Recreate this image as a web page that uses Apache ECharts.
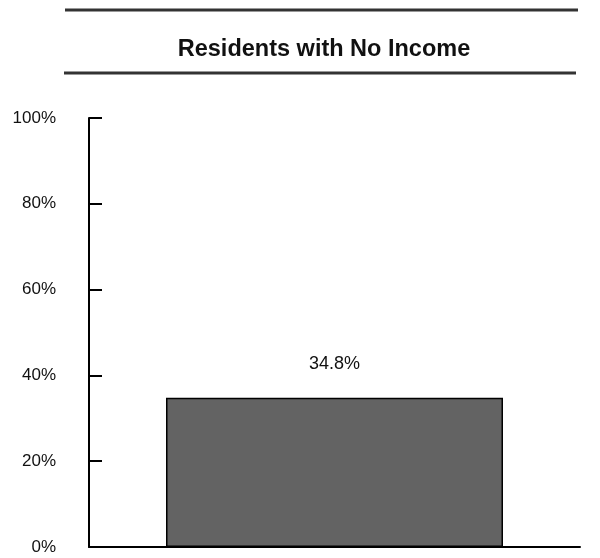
<!DOCTYPE html>
<html><head><meta charset="utf-8">
<script src="https://cdn.jsdelivr.net/npm/echarts@6/dist/echarts.min.js"></script>
<style>html,body{margin:0;padding:0;background:#fff}#c{width:600px;height:558px}</style>
</head><body><div id="c"></div>
<script>
const titleText = 'Residents with No Income';
const categories = ['Residents with No Income'];
const values = [34.8];
const yTicks = [0, 20, 40, 60, 80, 100];
const FONT = '"Liberation Sans Narrow", "Liberation Sans", Arial, sans-serif';

const chart = echarts.init(document.getElementById('c'), null, {renderer: 'canvas'});
chart.setOption({
  animation: false,
  backgroundColor: '#fff',
  title: {
    text: titleText, left: 319, textAlign: 'center', top: 33,
    textStyle: {fontFamily: FONT, fontSize: 23.5, fontWeight: 'bold', color: '#111'}
  },
  graphic: [
    {type: 'line', shape: {x1: 65, y1: 10, x2: 578, y2: 10}, style: {stroke: '#333', lineWidth: 3}},
    {type: 'line', shape: {x1: 64, y1: 73, x2: 576, y2: 73}, style: {stroke: '#333', lineWidth: 3}}
  ],
  grid: {left: 89, right: 20, top: 118, bottom: 11, containLabel: false},
  xAxis: {
    type: 'category', data: categories,
    axisLine: {show: true, lineStyle: {color: '#000', width: 2}},
    axisTick: {show: false}, axisLabel: {show: false}
  },
  yAxis: {
    type: 'value', min: yTicks[0], max: yTicks[yTicks.length - 1], interval: 20,
    axisLine: {show: true, lineStyle: {color: '#000', width: 2}},
    axisTick: {show: true, inside: true, length: 13, lineStyle: {color: '#000', width: 2}},
    splitLine: {show: false},
    axisLabel: {formatter: v => v + '%', margin: 33, fontFamily: FONT, fontSize: 17, color: '#111'}
  },
  series: [{
    type: 'bar', data: values, barWidth: 337,
    itemStyle: {color: '#636363', borderColor: '#000', borderWidth: 1.5},
    label: {show: true, position: 'top', distance: 25, formatter: p => p.value + '%',
      fontFamily: FONT, fontSize: 18, color: '#111'}
  }]
});
</script></body></html>
